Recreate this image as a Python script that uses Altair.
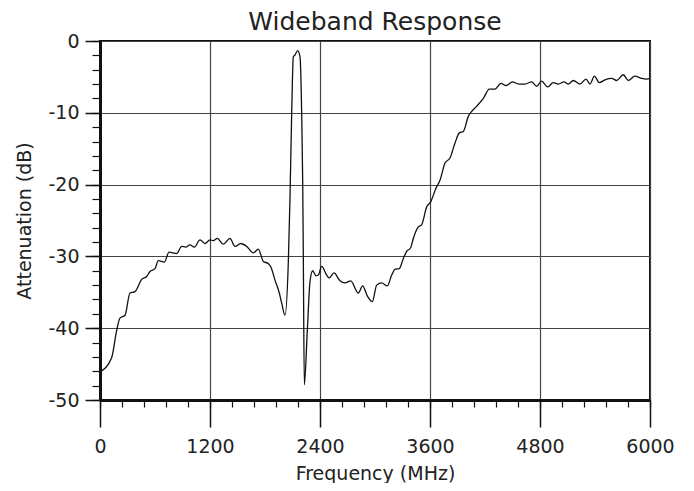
import altair as alt
import pandas as pd

# Data
freq_mhz = [0, 127, 182, 218, 273, 327, 382, 455, 509, 545, 600, 636, 702, 753, 836, 891,
            934, 982, 1029, 1091, 1145, 1200, 1236, 1280, 1345, 1418, 1473, 1535, 1600, 1673,
            1727, 1782, 1836, 1862, 1909, 1956, 1982, 2018, 2054, 2073, 2091, 2109, 2127, 2156,
            2182, 2200, 2211, 2218, 2229, 2262, 2291, 2320, 2356, 2382, 2418, 2473, 2500, 2553,
            2618, 2673, 2735, 2818, 2865, 2916, 2971, 3018, 3073, 3135, 3182, 3218, 3265, 3309,
            3345, 3389, 3418, 3473, 3509, 3564, 3607, 3665, 3709, 3764, 3818, 3873, 3920, 3964,
            4018, 4055, 4109, 4182, 4247, 4309, 4375, 4430, 4500, 4568, 4636, 4709, 4764, 4818,
            4884, 4945, 5000, 5062, 5109, 5164, 5236, 5302, 5345, 5393, 5447, 5509, 5582, 5636,
            5709, 5764, 5836, 5909, 5964, 6000]
atten_db = [-46.1, -44.1, -40.3, -38.6, -38.2, -35.1, -34.9, -33.2, -32.8, -32.1, -31.7, -30.6,
            -30.8, -29.4, -29.6, -28.6, -28.7, -28.4, -28.7, -27.7, -28.2, -27.7, -27.8, -27.5,
            -28.3, -27.5, -28.6, -28.2, -28.6, -29.5, -29.0, -30.7, -31.0, -31.4, -33.3, -35.1,
            -36.5, -38.2, -31.0, -21.7, -10.1, -2.2, -1.95, -1.35, -2.2, -10.1, -19.4, -30.0,
            -47.9, -40.2, -33.5, -32.0, -32.7, -32.6, -31.4, -32.6, -33.0, -32.3, -33.4, -33.7,
            -33.4, -35.1, -34.1, -35.5, -36.3, -34.0, -33.7, -34.1, -32.6, -31.8, -31.7, -30.3,
            -29.3, -28.8, -27.5, -25.9, -25.6, -23.1, -22.4, -20.5, -19.4, -17.0, -16.3, -14.2,
            -12.8, -12.6, -10.5, -9.8, -9.1, -8.0, -6.7, -6.7, -5.9, -6.2, -5.7, -6.0, -6.0, -5.7,
            -6.3, -5.6, -6.4, -5.8, -6.0, -5.7, -6.0, -5.5, -6.0, -5.3, -6.0, -4.9, -5.8, -5.4,
            -5.2, -5.5, -4.7, -5.5, -4.9, -5.2, -5.3, -5.2]

x_major = [0, 1200, 2400, 3600, 4800, 6000]
x_minor = [i * 240 for i in range(26)]
y_major = [0, -10, -20, -30, -40, -50]
y_minor = [-2 * i for i in range(26)]

df = pd.DataFrame({"freq": freq_mhz, "atten": atten_db})

FONT = "DejaVu Sans"
INK = "#222222"

xscale = alt.Scale(domain=[0, 6000], nice=False, zero=False)
yscale = alt.Scale(domain=[-50, 0], nice=False, zero=False)

main = alt.Chart(df).mark_line(color="#111111", strokeWidth=1.3, interpolate="monotone").encode(
    x=alt.X("freq:Q", scale=xscale,
            axis=alt.Axis(orient="bottom", values=x_major, labelExpr="'' + datum.value",
                          tickSize=27, tickWidth=1.5,
                          tickColor="#111111", domainWidth=3, domainColor="#111111",
                          grid=True, gridColor="#444444", gridWidth=1.2,
                          labelFont=FONT, labelFontSize=19, labelColor=INK, labelPadding=10,
                          labelFlush=False,
                          title="Frequency (MHz)", titleFont=FONT, titleFontSize=19,
                          titleFontWeight="normal", titleColor=INK, titlePadding=8)),
    y=alt.Y("atten:Q", scale=yscale,
            axis=alt.Axis(orient="left", values=y_major, labelExpr="'' + datum.value",
                          tickSize=15, tickWidth=1.5,
                          tickColor="#111111", domainWidth=3, domainColor="#111111",
                          grid=True, gridColor="#444444", gridWidth=1.2,
                          labelFont=FONT, labelFontSize=19, labelColor=INK, labelPadding=6,
                          labelFlush=False,
                          title="Attenuation (dB)", titleFont=FONT, titleFontSize=19,
                          titleFontWeight="normal", titleColor=INK, titlePadding=13)),
)

minor = alt.Chart(df).mark_line(strokeOpacity=0).encode(
    x=alt.X("freq:Q", scale=xscale,
            axis=alt.Axis(orient="bottom", values=x_minor, tickSize=7, tickWidth=1.2,
                          tickColor="#111111", domain=False, grid=False, labels=False,
                          title=None)),
    y=alt.Y("atten:Q", scale=yscale,
            axis=alt.Axis(orient="left", values=y_minor, tickSize=8, tickWidth=1.2,
                          tickColor="#111111", domain=False, grid=False, labels=False,
                          title=None)),
)

chart = alt.layer(main, minor).resolve_axis(x="independent", y="independent").properties(
    width=550,
    height=359,
    autosize=alt.AutoSizeParams(type="none"),
    padding={"left": 92, "top": 33, "right": 36, "bottom": 83},
    title=alt.TitleParams("Wideband Response", font="DejaVu Sans", fontSize=25,
                          fontWeight="normal", color=INK, anchor="middle", frame="group",
                          offset=0, dy=3),
    background="white",
).configure_view(stroke="#111111", strokeWidth=2)

chart.save("out.html", embed_options={"renderer": "svg", "actions": False})
